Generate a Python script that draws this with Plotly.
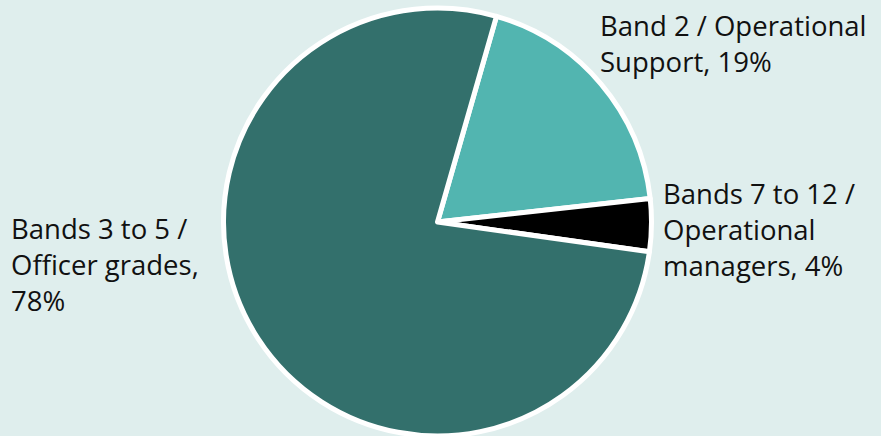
import plotly.graph_objects as go

labels = ["Band 2 / Operational Support", "Bands 7 to 12 / Operational managers", "Bands 3 to 5 / Officer grades"]
values = [19, 4, 78]
label_lines = [["Band 2 / Operational", "Support, 19%"],
               ["Bands 7 to 12 /", "Operational", "managers, 4%"],
               ["Bands 3 to 5 /", "Officer grades,", "78%"]]
colors = ["#52B5B0", "#000000", "#33706C"]

bg = "#DFEEED"
fig = go.Figure(go.Pie(
    labels=labels, values=values, sort=False, direction="clockwise", rotation=16,
    marker=dict(colors=colors, line=dict(color="white", width=5)),
    textinfo="none", hoverinfo="label+percent", showlegend=False,
    domain=dict(x=[0.2537, 0.7395], y=[0, 0.9817]),
))

label_pos = [(598, 5), (661, 173), (9, 208)]
for lines, (px, py) in zip(label_lines, label_pos):
    fig.add_annotation(text="<br>".join(lines), xref="paper", yref="paper",
                       x=px / 881, y=1 - py / 436, xanchor="left", yanchor="top",
                       align="left", showarrow=False,
                       font=dict(family="Open Sans", size=27.5, color="#111111"))

fig.update_layout(width=881, height=436, margin=dict(l=0, r=0, t=0, b=0),
                  paper_bgcolor=bg, plot_bgcolor=bg)
fig.write_html("out.html")
